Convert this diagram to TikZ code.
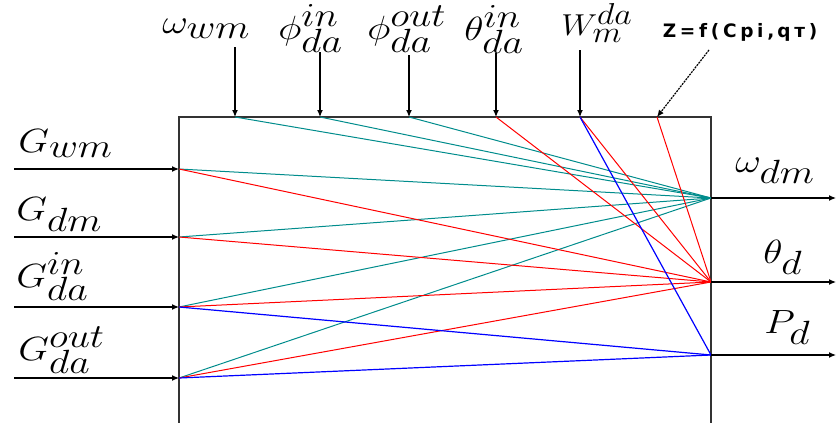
\documentclass[tikz,border=0pt]{standalone}
\usepackage{fontspec}
\newfontfamily\zfont[LetterSpace=20]{DejaVu Sans}
\DeclareMathSizes{24.88}{24.88}{23}{18}
\usetikzlibrary{arrows.meta}
\definecolor{tealc}{RGB}{0,140,140}
\definecolor{redc}{RGB}{255,0,0}
\definecolor{bluec}{RGB}{0,0,255}
\begin{document}
\begin{tikzpicture}[x=1pt,y=-1pt,
  lbl/.style={inner sep=0pt,font=\Huge,xscale=1.6,yscale=1.35,anchor=base west},
  inarrow/.style={draw=black,line width=1.2pt,-{Latex[length=7pt,width=6pt]}},
  boxline/.style={draw=black!80,line width=1.6pt},
  tl/.style={draw=tealc,line width=1pt},
  rl/.style={draw=redc,line width=1pt},
  bl/.style={draw=bluec,line width=1.2pt}]
\useasboundingbox (0,0) rectangle (836,423);
% box
\draw[boxline] (179,423) -- (179,117) -- (711,117) -- (711,423);
% ports on top
\coordinate (pw) at (235,117);
\coordinate (pfi) at (320,117);
\coordinate (pfo) at (409,117);
\coordinate (pth) at (496,117);
\coordinate (pW) at (580,117);
\coordinate (pZ) at (657,117);
% ports left
\coordinate (pgw) at (179,169);
\coordinate (pgd) at (179,237);
\coordinate (pgi) at (179,307);
\coordinate (pgo) at (179,378);
% ports right
\coordinate (ow) at (711,198);
\coordinate (oth) at (711,282);
\coordinate (op) at (711,355);
% arrow starts/ends
\coordinate (sw) at (235,47);
\coordinate (sfi) at (320,52);
\coordinate (sfo) at (409,55);
\coordinate (sth) at (496,53);
\coordinate (sW) at (580,50);
\coordinate (sZ) at (709,50);
\coordinate (sgw) at (14,169);
\coordinate (sgd) at (14,237);
\coordinate (sgi) at (14,307);
\coordinate (sgo) at (14,378);
\coordinate (ew) at (836,198);
\coordinate (eth) at (836,282);
\coordinate (ep) at (836,355);
% labels
\node[lbl] (lw) at (162,33) {$\omega_{wm}$};
\node[lbl] (lfi) at (278,39) {$\phi_{da}^{in}$};
\node[lbl] (lfo) at (367,39) {$\phi_{da}^{out}$};
\node[lbl] (lth) at (464,40) {$\theta_{da}^{in}$};
\node[lbl,xscale=0.85,yscale=0.9] (lW) at (561,35) {$W_m^{da}$};
\node[inner sep=0pt,font=\zfont\bfseries\fontsize{18.5}{18.5}\selectfont] (lZ) at (740,32) {Z=f(Cpi,\,qт)};
\node[lbl] (lgw) at (18,152) {$G_{wm}$};
\node[lbl] (lgd) at (16,220) {$G_{dm}$};
\node[lbl] (lgi) at (16,287) {$G_{da}^{in}$};
\node[lbl] (lgo) at (18,360) {$G_{da}^{out}$};
\node[lbl] (lod) at (735,172) {$\omega_{dm}$};
\node[lbl] (lot) at (763,263) {$\theta_{d}$};
\node[lbl] (lop) at (764,333) {$P_{d}$};
% inner lines
\foreach \s in {pw,pfi,pfo,pgw,pgd,pgi,pgo} \draw[tl] (\s) -- (ow);
\foreach \s in {pth,pW,pZ,pgw,pgd,pgi,pgo} \draw[rl] (\s) -- (oth);
\foreach \s in {pW,pgi,pgo} \draw[bl] (\s) -- (op);
% arrows
\draw[inarrow] (sw) -- (pw);
\draw[inarrow] (sfi) -- (pfi);
\draw[inarrow] (sfo) -- (pfo);
\draw[inarrow] (sth) -- (pth);
\draw[inarrow] (sW) -- (pW);
\draw[inarrow,dashed,dash pattern=on 2pt off 1pt] (sZ) -- (pZ);
\draw[inarrow] (sgw) -- (pgw);
\draw[inarrow] (sgd) -- (pgd);
\draw[inarrow] (sgi) -- (pgi);
\draw[inarrow] (sgo) -- (pgo);
\draw[inarrow] (ow) -- (ew);
\draw[inarrow] (oth) -- (eth);
\draw[inarrow] (op) -- (ep);
\end{tikzpicture}
\end{document}
